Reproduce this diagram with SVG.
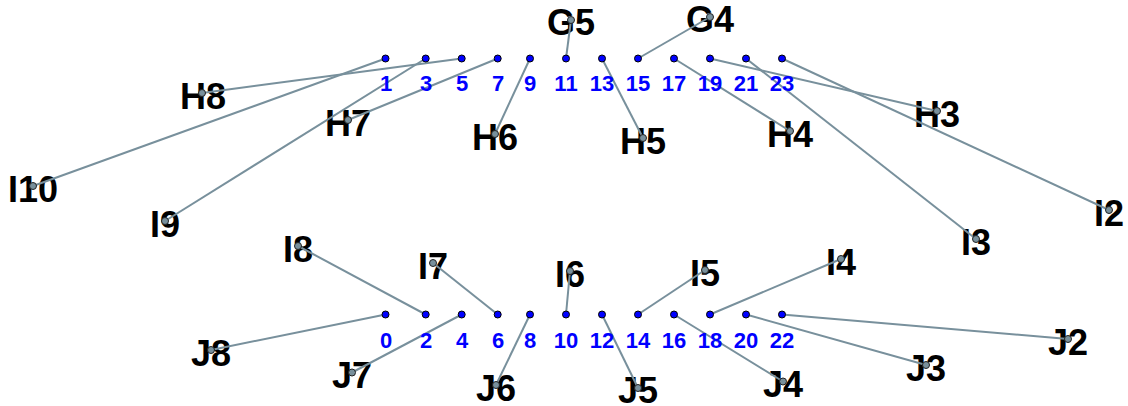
<svg xmlns="http://www.w3.org/2000/svg" width="1128" height="406" viewBox="0 0 1128 406">
<style>
.bg{fill:#ffffff}
.big{font-family:"Liberation Sans",Arial,sans-serif;font-weight:bold;font-size:36px;fill:#000;text-anchor:middle}
.num{font-family:"Liberation Sans",Arial,sans-serif;font-weight:bold;font-size:22px;fill:#0000ff;text-anchor:middle}
.edge{stroke:#78909c;stroke-width:2;fill:none}
.pt{fill:#0000ff;stroke:#000;stroke-width:1}
.gp{fill:#78909c;stroke:#222;stroke-width:1}
</style>
<rect class="bg" x="0" y="0" width="1128" height="406"/>
<g id="labels-big">
<g id="G5"><text class="big" x="571" y="35">G5</text></g>
<g id="G4"><text class="big" x="710" y="32">G4</text></g>
<g id="H8"><text class="big" x="203" y="109">H8</text></g>
<g id="H7"><text class="big" x="348" y="136">H7</text></g>
<g id="H6"><text class="big" x="495" y="150">H6</text></g>
<g id="H5"><text class="big" x="643" y="154">H5</text></g>
<g id="H4"><text class="big" x="790" y="147">H4</text></g>
<g id="H3"><text class="big" x="937" y="127">H3</text></g>
<g id="I10"><text class="big" x="33" y="202">I10</text></g>
<g id="I9"><text class="big" x="165" y="237">I9</text></g>
<g id="I3"><text class="big" x="976" y="255">I3</text></g>
<g id="I2"><text class="big" x="1109" y="226">I2</text></g>
<g id="I8"><text class="big" x="298" y="262">I8</text></g>
<g id="I7"><text class="big" x="433" y="279">I7</text></g>
<g id="I6"><text class="big" x="570" y="287">I6</text></g>
<g id="I5"><text class="big" x="705" y="286">I5</text></g>
<g id="I4"><text class="big" x="841" y="275">I4</text></g>
<g id="J8"><text class="big" x="211" y="366">J8</text></g>
<g id="J7"><text class="big" x="352" y="388">J7</text></g>
<g id="J6"><text class="big" x="496" y="401">J6</text></g>
<g id="J5"><text class="big" x="638" y="403">J5</text></g>
<g id="J4"><text class="big" x="783" y="397">J4</text></g>
<g id="J3"><text class="big" x="926" y="381">J3</text></g>
<g id="J2"><text class="big" x="1068" y="355">J2</text></g>
</g>
<g id="connectors">
<line class="edge" x1="571" y1="20" x2="566" y2="58.5"/>
<line class="edge" x1="710" y1="17" x2="638" y2="58.5"/>
<line class="edge" x1="202" y1="93" x2="461.7" y2="58.5"/>
<line class="edge" x1="348" y1="120" x2="497.7" y2="58.5"/>
<line class="edge" x1="495" y1="134" x2="530" y2="58.5"/>
<line class="edge" x1="643" y1="138" x2="602" y2="58.5"/>
<line class="edge" x1="790" y1="131" x2="674" y2="58.5"/>
<line class="edge" x1="937" y1="111" x2="710" y2="58.5"/>
<line class="edge" x1="33" y1="186" x2="385.5" y2="58.5"/>
<line class="edge" x1="165" y1="221" x2="425.7" y2="58.5"/>
<line class="edge" x1="976" y1="239" x2="746" y2="58.5"/>
<line class="edge" x1="1109" y1="210" x2="782" y2="58.5"/>
<line class="edge" x1="298" y1="246" x2="425.7" y2="314.5"/>
<line class="edge" x1="433" y1="263" x2="497.7" y2="314.5"/>
<line class="edge" x1="570" y1="271" x2="566" y2="314.5"/>
<line class="edge" x1="705" y1="270" x2="638" y2="314.5"/>
<line class="edge" x1="841" y1="259" x2="710" y2="314.5"/>
<line class="edge" x1="211" y1="350" x2="385.5" y2="314.5"/>
<line class="edge" x1="352" y1="372.5" x2="461.7" y2="314.5"/>
<line class="edge" x1="496" y1="385" x2="530" y2="314.5"/>
<line class="edge" x1="638" y1="388" x2="602" y2="314.5"/>
<line class="edge" x1="783" y1="381.5" x2="674" y2="314.5"/>
<line class="edge" x1="926" y1="365" x2="746" y2="314.5"/>
<line class="edge" x1="1068" y1="339" x2="782" y2="314.5"/>
</g>
<g id="node-points">
<circle class="gp" cx="571" cy="20" r="3.5"/>
<circle class="gp" cx="710" cy="17" r="3.5"/>
<circle class="gp" cx="202" cy="93" r="3.5"/>
<circle class="gp" cx="348" cy="120" r="3.5"/>
<circle class="gp" cx="495" cy="134" r="3.5"/>
<circle class="gp" cx="643" cy="138" r="3.5"/>
<circle class="gp" cx="790" cy="131" r="3.5"/>
<circle class="gp" cx="937" cy="111" r="3.5"/>
<circle class="gp" cx="33" cy="186" r="3.5"/>
<circle class="gp" cx="165" cy="221" r="3.5"/>
<circle class="gp" cx="976" cy="239" r="3.5"/>
<circle class="gp" cx="1109" cy="210" r="3.5"/>
<circle class="gp" cx="298" cy="246" r="3.5"/>
<circle class="gp" cx="433" cy="263" r="3.5"/>
<circle class="gp" cx="570" cy="271" r="3.5"/>
<circle class="gp" cx="705" cy="270" r="3.5"/>
<circle class="gp" cx="841" cy="259" r="3.5"/>
<circle class="gp" cx="211" cy="350" r="3.5"/>
<circle class="gp" cx="352" cy="372.5" r="3.5"/>
<circle class="gp" cx="496" cy="385" r="3.5"/>
<circle class="gp" cx="638" cy="388" r="3.5"/>
<circle class="gp" cx="783" cy="381.5" r="3.5"/>
<circle class="gp" cx="926" cy="365" r="3.5"/>
<circle class="gp" cx="1068" cy="339" r="3.5"/>
</g>
<g id="top-row">
<g id="p1"><circle class="pt" cx="385.5" cy="58.5" r="3.5"/><text class="num" x="386" y="91">1</text></g>
<g id="p3"><circle class="pt" cx="425.7" cy="58.5" r="3.5"/><text class="num" x="426" y="91">3</text></g>
<g id="p5"><circle class="pt" cx="461.7" cy="58.5" r="3.5"/><text class="num" x="462" y="91">5</text></g>
<g id="p7"><circle class="pt" cx="497.7" cy="58.5" r="3.5"/><text class="num" x="498" y="91">7</text></g>
<g id="p9"><circle class="pt" cx="530" cy="58.5" r="3.5"/><text class="num" x="530" y="91">9</text></g>
<g id="p11"><circle class="pt" cx="566" cy="58.5" r="3.5"/><text class="num" x="566" y="91">11</text></g>
<g id="p13"><circle class="pt" cx="602" cy="58.5" r="3.5"/><text class="num" x="602" y="91">13</text></g>
<g id="p15"><circle class="pt" cx="638" cy="58.5" r="3.5"/><text class="num" x="638" y="91">15</text></g>
<g id="p17"><circle class="pt" cx="674" cy="58.5" r="3.5"/><text class="num" x="674" y="91">17</text></g>
<g id="p19"><circle class="pt" cx="710" cy="58.5" r="3.5"/><text class="num" x="710" y="91">19</text></g>
<g id="p21"><circle class="pt" cx="746" cy="58.5" r="3.5"/><text class="num" x="746" y="91">21</text></g>
<g id="p23"><circle class="pt" cx="782" cy="58.5" r="3.5"/><text class="num" x="782" y="91">23</text></g>
</g>
<g id="bottom-row">
<g id="p0"><circle class="pt" cx="385.5" cy="314.5" r="3.5"/><text class="num" x="386" y="348">0</text></g>
<g id="p2"><circle class="pt" cx="425.7" cy="314.5" r="3.5"/><text class="num" x="426" y="348">2</text></g>
<g id="p4"><circle class="pt" cx="461.7" cy="314.5" r="3.5"/><text class="num" x="462" y="348">4</text></g>
<g id="p6"><circle class="pt" cx="497.7" cy="314.5" r="3.5"/><text class="num" x="498" y="348">6</text></g>
<g id="p8"><circle class="pt" cx="530" cy="314.5" r="3.5"/><text class="num" x="530" y="348">8</text></g>
<g id="p10"><circle class="pt" cx="566" cy="314.5" r="3.5"/><text class="num" x="566" y="348">10</text></g>
<g id="p12"><circle class="pt" cx="602" cy="314.5" r="3.5"/><text class="num" x="602" y="348">12</text></g>
<g id="p14"><circle class="pt" cx="638" cy="314.5" r="3.5"/><text class="num" x="638" y="348">14</text></g>
<g id="p16"><circle class="pt" cx="674" cy="314.5" r="3.5"/><text class="num" x="674" y="348">16</text></g>
<g id="p18"><circle class="pt" cx="710" cy="314.5" r="3.5"/><text class="num" x="710" y="348">18</text></g>
<g id="p20"><circle class="pt" cx="746" cy="314.5" r="3.5"/><text class="num" x="746" y="348">20</text></g>
<g id="p22"><circle class="pt" cx="782" cy="314.5" r="3.5"/><text class="num" x="782" y="348">22</text></g>
</g>
</svg>
